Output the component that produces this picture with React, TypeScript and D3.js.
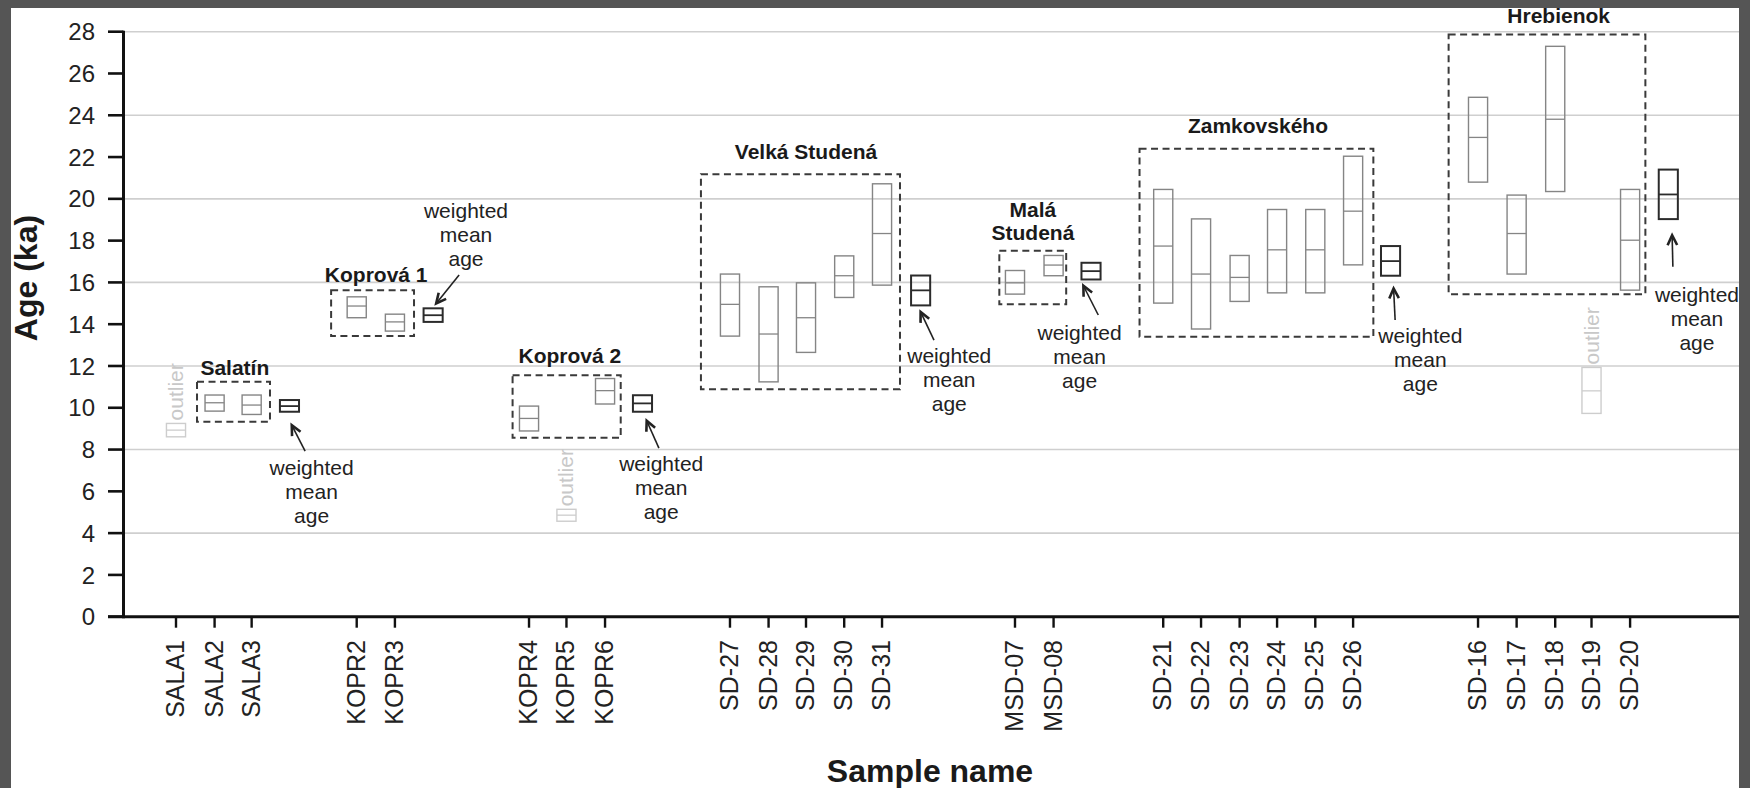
import React from "react";
import * as d3 from "d3";

// ---- Data ----
const samples = ["SALA1","SALA2","SALA3","KOPR2","KOPR3","KOPR4","KOPR5","KOPR6","SD-27","SD-28","SD-29","SD-30","SD-31","MSD-07","MSD-08","SD-21","SD-22","SD-23","SD-24","SD-25","SD-26","SD-16","SD-17","SD-18","SD-19","SD-20"];
const samplePos = [0,1.01,1.98, 4.73,5.73, 9.24,10.22,11.23, 14.5,15.51,16.49,17.49,18.48, 21.96,22.97, 25.84,26.83,27.84,28.82,29.82,30.81, 34.08,35.09,36.1,37.05,38.06];
const ageMid = [8.93,10.24,10.13, 14.87,14.11, 9.49,4.86,10.82, 14.95,13.53,14.31,16.32,18.34, 15.98,16.83, 17.74,16.4,16.24,17.56,17.56,19.41, 22.94,18.34,23.81,10.81,18.02];
const ageLow = [8.61,9.84,9.68, 14.31,13.67, 8.89,4.57,10.18, 13.43,11.24,12.65,15.28,15.87, 15.44,16.32, 15.01,13.77,15.09,15.5,15.5,16.84, 20.8,16.4,20.35,9.73,15.63];
const ageHigh = [9.25,10.61,10.61, 15.31,14.48, 10.08,5.14,11.4, 16.4,15.79,15.98,17.27,20.72, 16.57,17.29, 20.45,19.04,17.29,19.49,19.49,22.04, 24.86,20.18,27.3,11.93,20.45];
const isOutlier = [true,false,false, false,false, false,true,false, false,false,false,false,false, false,false, false,false,false,false,false,false, false,false,false,true,false];

const groupNames = [["Salatín"],["Koprová 1"],["Koprová 2"],["Velká Studená"],["Malá","Studená"],["Zamkovského"],["Hrebienok"]];
const groupX0 = [0.55, 4.06, 8.81, 13.74, 21.55, 25.22, 33.31];
const groupX1 = [2.46, 6.23, 11.64, 18.95, 23.3, 31.34, 38.46];
const groupAgeLow = [9.33, 13.43, 8.56, 10.89, 14.96, 13.4, 15.43];
const groupAgeHigh = [11.24, 15.63, 11.56, 21.18, 17.51, 22.4, 27.87];
const labelPos = [1.54, 5.24, 10.31, 16.49, 22.43, 28.32, 36.19];
const labelAge = [11.56, 16.03, 12.14, 21.93, 19.14, 23.13, 28.42];

const wmPos = [2.97, 6.73, 12.21, 19.49, 23.95, 31.79, 39.06];
const wmMid = [10.08, 14.43, 10.21, 15.62, 16.54, 17.02, 20.21];
const wmLow = [9.81, 14.11, 9.81, 14.9, 16.14, 16.32, 19.03];
const wmHigh = [10.37, 14.76, 10.6, 16.33, 16.94, 17.74, 21.4];

const noteLines = ["weighted", "mean", "age"];
const notePos = [3.55, 7.59, 12.7, 20.24, 23.65, 32.57, 39.81];
const noteAge = [6.78, 19.06, 6.99, 12.12, 13.24, 13.08, 15.07];
const arrowFromPos = [3.38, 7.41, 12.64, 19.84, 24.14, 31.91, 39.18];
const arrowFromAge = [7.93, 16.35, 8.07, 13.24, 14.44, 14.2, 16.75];
const arrowToPos = [3.03, 6.81, 12.32, 19.49, 23.75, 31.87, 39.16];
const arrowToAge = [9.17, 14.99, 9.38, 14.59, 15.84, 15.71, 18.26];

const yTicks = [0,2,4,6,8,10,12,14,16,18,20,22,24,26,28];
const gridTicks = [4,8,12,16,20,24,28];

const W = 1750, H = 788;
const FONT = "'Liberation Sans', Arial, Helvetica, sans-serif";

export default function App() {
  const x = d3.scaleLinear().domain([0, 39.06]).range([176, 1668.3]);
  const y = d3.scaleLinear().domain([0, 28]).range([616.7, 31.7]);
  const unit = x(1) - x(0);
  const halfW = unit * 0.25;
  const axisX = 123.5;
  const plotRight = 1739;

  const arrowHead = (x1: number, y1: number, x2: number, y2: number) => {
    const ang = Math.atan2(y2 - y1, x2 - x1);
    const len = 11;
    const a1 = ang + Math.PI - 0.45;
    const a2 = ang + Math.PI + 0.45;
    return `M${x2 + len * Math.cos(a1)},${y2 + len * Math.sin(a1)} L${x2},${y2} L${x2 + len * Math.cos(a2)},${y2 + len * Math.sin(a2)}`;
  };

  return (
    <svg width={W} height={H} style={{ position: "absolute", left: 0, top: 0 }} fontFamily={FONT}>
      <rect x={0} y={0} width={W} height={H} fill="#fff" />
      {gridTicks.map((t) => (
        <line key={"g" + t} x1={axisX} x2={plotRight} y1={y(t)} y2={y(t)} stroke="#cfcfcf" strokeWidth={1.6} />
      ))}

      {groupX0.map((g, i) => (
        <rect key={"gb" + i} x={x(g)} y={y(groupAgeHigh[i])} width={x(groupX1[i]) - x(g)} height={y(groupAgeLow[i]) - y(groupAgeHigh[i])}
          fill="none" stroke="#3a3a3a" strokeWidth={2} strokeDasharray="7,4.5" />
      ))}

      {groupNames.map((lines, i) => (
        <text key={"gl" + i} x={x(labelPos[i])} y={y(labelAge[i])} textAnchor="middle" fontWeight="bold" fontSize={21} fill="#1a1a1a">
          {lines.map((l, j) => (
            <tspan key={j} x={x(labelPos[i])} dy={j === 0 ? 0 : 23.5}>{l}</tspan>
          ))}
        </text>
      ))}

      {samples.map((s, i) => {
        const cx = x(samplePos[i]);
        const col = isOutlier[i] ? "#cdcdcd" : "#858585";
        return (
          <g key={"s" + s}>
            <rect x={cx - halfW} y={y(ageHigh[i])} width={halfW * 2} height={y(ageLow[i]) - y(ageHigh[i])} fill="none" stroke={col} strokeWidth={1.4} />
            <line x1={cx - halfW} x2={cx + halfW} y1={y(ageMid[i])} y2={y(ageMid[i])} stroke={col} strokeWidth={1.3} />
            {isOutlier[i] && (
              <text transform={`translate(${cx + 7},${y(ageHigh[i]) - 3}) rotate(-90)`} fontSize={21} fill="#c8c8c8">outlier</text>
            )}
          </g>
        );
      })}

      {wmPos.map((p, i) => {
        const cx = x(p);
        return (
          <g key={"wm" + i}>
            <rect x={cx - halfW} y={y(wmHigh[i])} width={halfW * 2} height={y(wmLow[i]) - y(wmHigh[i])} fill="none" stroke="#2b2b2b" strokeWidth={2} />
            <line x1={cx - halfW} x2={cx + halfW} y1={y(wmMid[i])} y2={y(wmMid[i])} stroke="#2b2b2b" strokeWidth={1.8} />
          </g>
        );
      })}

      {notePos.map((p, i) => {
        const x1 = x(arrowFromPos[i]), y1 = y(arrowFromAge[i]);
        const x2 = x(arrowToPos[i]), y2 = y(arrowToAge[i]);
        return (
          <g key={"n" + i}>
            <text x={x(p)} y={y(noteAge[i])} textAnchor="middle" fontSize={21} fill="#222">
              {noteLines.map((l, j) => (
                <tspan key={j} x={x(p)} dy={j === 0 ? 0 : 24}>{l}</tspan>
              ))}
            </text>
            <line x1={x1} y1={y1} x2={x2} y2={y2} stroke="#222" strokeWidth={1.6} />
            <path d={arrowHead(x1, y1, x2, y2)} fill="none" stroke="#222" strokeWidth={2.6} />
          </g>
        );
      })}

      <line x1={axisX} x2={axisX} y1={y(28) - 1} y2={y(0) + 1.5} stroke="#111" strokeWidth={3} />
      {yTicks.map((t) => (
        <g key={"yt" + t}>
          <line x1={108} x2={axisX} y1={y(t)} y2={y(t)} stroke="#111" strokeWidth={2.6} />
          <text x={95} y={y(t)} dy="0.36em" textAnchor="end" fontSize={24} fill="#222">{t}</text>
        </g>
      ))}

      <line x1={108} x2={plotRight} y1={y(0)} y2={y(0)} stroke="#111" strokeWidth={3} />
      {samples.map((s, i) => (
        <g key={"xt" + s}>
          <line x1={x(samplePos[i])} x2={x(samplePos[i])} y1={y(0)} y2={y(0) + 11} stroke="#111" strokeWidth={2.4} />
          <text transform={`translate(${x(samplePos[i]) + 8},${640}) rotate(-90)`} textAnchor="end" fontSize={25} fill="#222">{s}</text>
        </g>
      ))}

      <text transform={`translate(37,278) rotate(-90)`} textAnchor="middle" fontSize={32} fontWeight="bold" fill="#1a1a1a">Age (ka)</text>
      <text x={930} y={782} textAnchor="middle" fontSize={32} fontWeight="bold" fill="#1a1a1a">Sample name</text>

      <rect x={0} y={0} width={11} height={H} fill="#555" />
      <rect x={0} y={0} width={W} height={8} fill="#555" />
      <rect x={plotRight} y={0} width={W - plotRight} height={H} fill="#555" />
    </svg>
  );
}
